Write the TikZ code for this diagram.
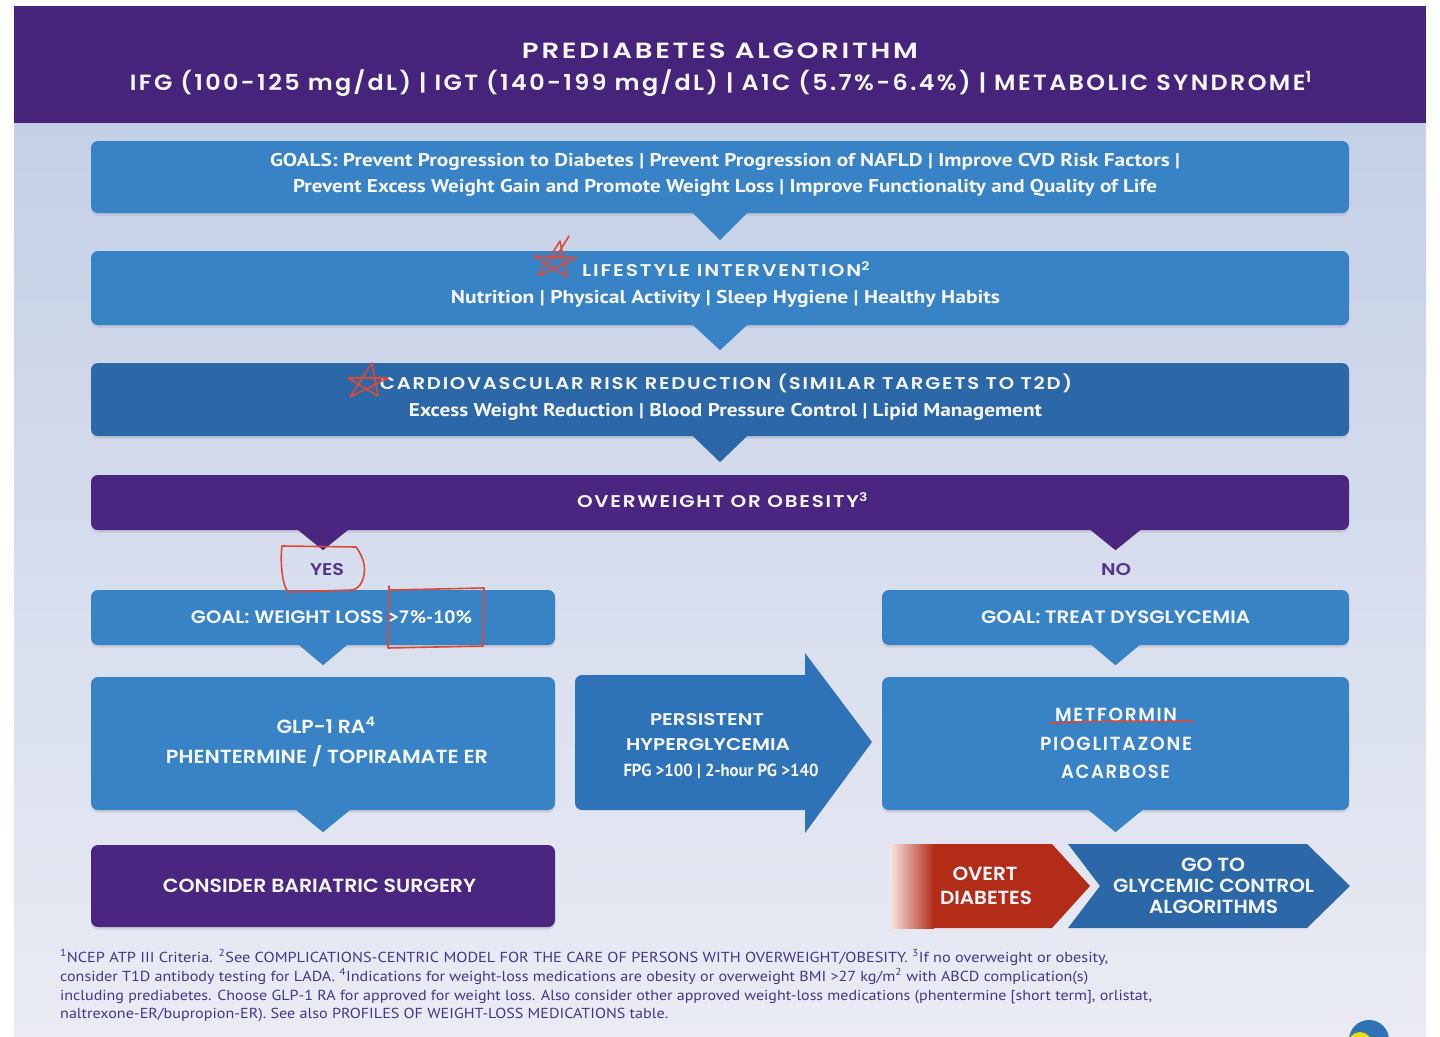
\documentclass[tikz,border=0pt]{standalone}
\usepackage{fontspec}
\usepackage{graphicx}
\usetikzlibrary{calc,shadows}
\setmainfont{PT Sans}
\newfontfamily\capf{Poppins SemiBold}
\newfontfamily\capls{Poppins SemiBold}[LetterSpace=9]
\newfontfamily\captl{Poppins SemiBold}[LetterSpace=10]
\newfontfamily\humf{PT Sans}
\definecolor{banner}{RGB}{70,36,124}
\definecolor{boxpurple}{RGB}{74,38,128}
\definecolor{boxblue}{RGB}{56,130,198}
\definecolor{boxdark}{RGB}{44,104,168}
\definecolor{arrowblue}{RGB}{46,114,184}
\definecolor{ovred}{RGB}{178,44,24}
\definecolor{bgtop}{RGB}{196,208,230}
\definecolor{bgbot}{RGB}{234,235,244}
\definecolor{notecol}{RGB}{66,54,136}
\definecolor{yescol}{RGB}{84,52,140}
\definecolor{inkred}{RGB}{218,74,52}
\definecolor{txtw}{RGB}{246,247,252}
\newcommand{\fitw}[2]{\resizebox{#1}{\height}{#2}}
\newcommand{\pointer}[4]{\fill[#1] ($(#2)+(-#3,-1)$) -- ($(#2)+(#3,-1)$) -- ($(#2)+(0,#4)$) -- cycle;}
\tikzset{
  box/.style={rounded corners=7pt, inner sep=0pt, draw=none,
    drop shadow={shadow xshift=0pt, shadow yshift=-2.5pt, opacity=0.22}},
  bluebox/.style={box, fill=boxblue},
  darkbox/.style={box, fill=boxdark},
  purplebox/.style={box, fill=boxpurple},
  capt/.style={font=\capf\fontsize{18}{20}\selectfont, text=txtw, anchor=base, inner sep=0pt},
  headt/.style={font=\capls\fontsize{17}{20}\selectfont, text=txtw, anchor=base, inner sep=0pt},
  titlet/.style={font=\captl\fontsize{22}{24}\selectfont, text=txtw, anchor=base, inner sep=0pt},
  humt/.style={font=\humf\bfseries\fontsize{18.5}{20}\selectfont, text=txtw, anchor=base, inner sep=0pt},
  note/.style={font=\humf\fontsize{14.5}{16}\selectfont, text=notecol, anchor=base west, inner sep=0pt},
  ink/.style={draw=inkred, line width=1.6pt, line cap=round, line join=round},
}
\begin{document}
\begin{tikzpicture}[x=1pt,y=-1pt]
\useasboundingbox (0,0) rectangle (1440,1036);
\fill[white] (0,0) rectangle (1440,1036);
\shade[top color=bgtop, bottom color=bgbot] (14,120) rectangle (1426,1036);

% banner
\node[fill=banner, minimum width=1412, minimum height=117, inner sep=0pt] (banner) at (720,64.5) {};
\node[titlet] (t1) at (720,58) {\fitw{396pt}{PREDIABETES ALGORITHM}};
\node[titlet] (t2) at (721,90) {\fitw{1182pt}{IFG (100-125 mg/dL) | IGT (140-199 mg/dL) | A1C (5.7\%-6.4\%) | METABOLIC SYNDROME\textsuperscript{1}}};

% boxes
\node[bluebox, minimum width=1258, minimum height=72] (goals) at (720,177) {};
\node[bluebox, minimum width=1258, minimum height=74] (life) at (720,288) {};
\node[darkbox, minimum width=1258, minimum height=73] (cv) at (720,399.5) {};
\node[purplebox, minimum width=1258, minimum height=55] (ow) at (720,502.5) {};
\node[bluebox, minimum width=464, minimum height=55] (gwl) at (323,617.5) {};
\node[bluebox, minimum width=467, minimum height=55] (gtd) at (1115.5,617.5) {};
\node[bluebox, minimum width=464, minimum height=133] (glp) at (323,743.5) {};
\node[bluebox, minimum width=467, minimum height=133] (met) at (1115.5,743.5) {};
\node[purplebox, minimum width=464, minimum height=82] (bar) at (323,886) {};

% pointers
\coordinate (owL) at (ow.south -| gwl.north);
\coordinate (owR) at (ow.south -| gtd.north);
\pointer{boxblue}{goals.south}{28}{27}
\pointer{boxblue}{life.south}{28}{25}
\pointer{boxdark}{cv.south}{28}{26}
\pointer{boxpurple}{owL}{26}{20}
\pointer{boxpurple}{owR}{26}{20}
\pointer{boxblue}{gwl.south}{25}{20}
\pointer{boxblue}{gtd.south}{25}{20}
\pointer{boxblue}{glp.south}{28}{22}
\pointer{boxblue}{met.south}{28}{22}

% persistent arrow
\fill[arrowblue, rounded corners=7pt] (575,675) rectangle (815,810);
\fill[arrowblue] (805,653) -- (872,742) -- (805,833) -- cycle;

% chevrons
\fill[ovred] (892,844) -- (1052,844) -- (1090,886) -- (1052,928) -- (892,928) -- cycle;
\shade[left color=ovred!12!white, right color=ovred] (890,844) rectangle (934,928);
\fill[boxdark] (1068,844) -- (1307,844) -- (1350,886) -- (1307,928) -- (1068,928) -- (1100,886) -- cycle;

% texts
\node[humt] (g1) at (725,166.5) {\fitw{910pt}{GOALS: Prevent Progression to Diabetes | Prevent Progression of NAFLD | Improve CVD Risk Factors |}};
\node[humt] (g2) at (725,192.5) {\fitw{864pt}{Prevent Excess Weight Gain and Promote Weight Loss | Improve Functionality and Quality of Life}};
\node[headt] (l1) at (726,276.5) {\fitw{288pt}{LIFESTYLE INTERVENTION\textsuperscript{2}}};
\node[humt] (l2) at (725.5,303.5) {\fitw{549pt}{Nutrition | Physical Activity | Sleep Hygiene | Healthy Habits}};
\node[headt] (c1) at (726,389.5) {\fitw{692pt}{CARDIOVASCULAR RISK REDUCTION (SIMILAR TARGETS TO T2D)}};
\node[humt] (c2) at (725.5,416.5) {\fitw{633pt}{Excess Weight Reduction | Blood Pressure Control | Lipid Management}};
\node[headt] (o1) at (722.5,507.5) {\fitw{291pt}{OVERWEIGHT OR OBESITY\textsuperscript{3}}};
\node[capt, text=yescol, font=\capf\fontsize{17}{19}\selectfont] (yes) at (327,575) {\fitw{34pt}{YES}};
\node[capt, text=yescol, font=\capf\fontsize{17}{19}\selectfont] (no) at (1116,575) {\fitw{30pt}{NO}};
\node[capt] (w1) at (331.5,623.5) {\fitw{281pt}{GOAL: WEIGHT LOSS {\humf\bfseries >7\%-10\%}}};
\node[capt] (d1) at (1115.5,623.5) {\fitw{269pt}{GOAL: TREAT DYSGLYCEMIA}};
\node[capt, font=\capf\fontsize{19}{21}\selectfont] (m1) at (326,733) {\fitw{99pt}{GLP-1 RA\textsuperscript{4}}};
\node[capt, font=\capf\fontsize{19}{21}\selectfont] (m2) at (327,763) {\fitw{322pt}{PHENTERMINE / TOPIRAMATE ER}};
\node[capt, font=\capf\fontsize{17}{19}\selectfont] (p1) at (707,725.5) {\fitw{114pt}{PERSISTENT}};
\node[capt, font=\capf\fontsize{17}{19}\selectfont] (p2) at (708,750.5) {\fitw{164pt}{HYPERGLYCEMIA}};
\node[humt, font=\humf\bfseries\fontsize{17.5}{19}\selectfont] (p3) at (721,776.5) {\fitw{195pt}{FPG >100 | 2-hour PG >140}};
\node[headt, font=\capls\fontsize{19}{21}\selectfont] (r1) at (1116,721) {\fitw{122pt}{METFORMIN}};
\node[headt, font=\capls\fontsize{19}{21}\selectfont] (r2) at (1116,750) {\fitw{152pt}{PIOGLITAZONE}};
\node[headt, font=\capls\fontsize{19}{21}\selectfont] (r3) at (1115.5,778) {\fitw{109pt}{ACARBOSE}};
\node[capt, font=\capf\fontsize{19}{21}\selectfont] (b1) at (319.5,892) {\fitw{313pt}{CONSIDER BARIATRIC SURGERY}};
\node[capt, font=\capf\fontsize{19}{21}\selectfont] (v1) at (985,880) {\fitw{65pt}{OVERT}};
\node[capt, font=\capf\fontsize{19}{21}\selectfont] (v2) at (986,904) {\fitw{92pt}{DIABETES}};
\node[capt, font=\capf\fontsize{19}{21}\selectfont] (a1) at (1213,871) {\fitw{64pt}{GO TO}};
\node[capt, font=\capf\fontsize{19}{21}\selectfont] (a2) at (1213.5,892) {\fitw{201pt}{GLYCEMIC CONTROL}};
\node[capt, font=\capf\fontsize{19}{21}\selectfont] (a3) at (1213.5,913) {\fitw{129pt}{ALGORITHMS}};

% footnotes
\node[note] (f1) at (60,962) {\fitw{1048pt}{\textsuperscript{1}NCEP ATP III Criteria. \textsuperscript{2}See COMPLICATIONS-CENTRIC MODEL FOR THE CARE OF PERSONS WITH OVERWEIGHT/OBESITY. \textsuperscript{3}If no overweight or obesity,}};
\node[note] (f2) at (60,981) {\fitw{1028pt}{consider T1D antibody testing for LADA. \textsuperscript{4}Indications for weight-loss medications are obesity or overweight BMI >27 kg/m\textsuperscript{2} with ABCD complication(s)}};
\node[note] (f3) at (60,1000) {\fitw{1092pt}{including prediabetes. Choose GLP-1 RA for approved for weight loss. Also consider other approved weight-loss medications (phentermine [short term], orlistat,}};
\node[note] (f4) at (60,1018) {\fitw{608pt}{naltrexone-ER/bupropion-ER). See also PROFILES OF WEIGHT-LOSS MEDICATIONS table.}};

% red ink annotations
\draw[ink] (560,241) -- (538,276) -- (576,258) -- (534,256) -- (567,277) -- cycle;
\draw[ink] (553,262) -- (569,236);
\draw[ink] (372,363) -- (350,397) -- (388,378) -- (348,378) -- (378,396) -- cycle;
\draw[ink] (282,546) -- (356,547) .. controls (362,555) and (366,565) .. (364,575) .. controls (362,583) and (360,588) .. (352,590) -- (288,592) .. controls (282,585) and (280,560) .. (282,546);
\draw[ink] (389,586) -- (388,648) -- (483,646) -- (484,588) -- (390,590);
\draw[ink] (1050,723) .. controls (1100,720) and (1150,722) .. (1193,721);

% logo fragment
\begin{scope}
\clip (0,0) rectangle (1440,1036);
\fill[arrowblue] (1369,1040) circle (20);
\fill[yellow!80!olive] (1360,1044) circle (12);
\end{scope}
\end{tikzpicture}
\end{document}
